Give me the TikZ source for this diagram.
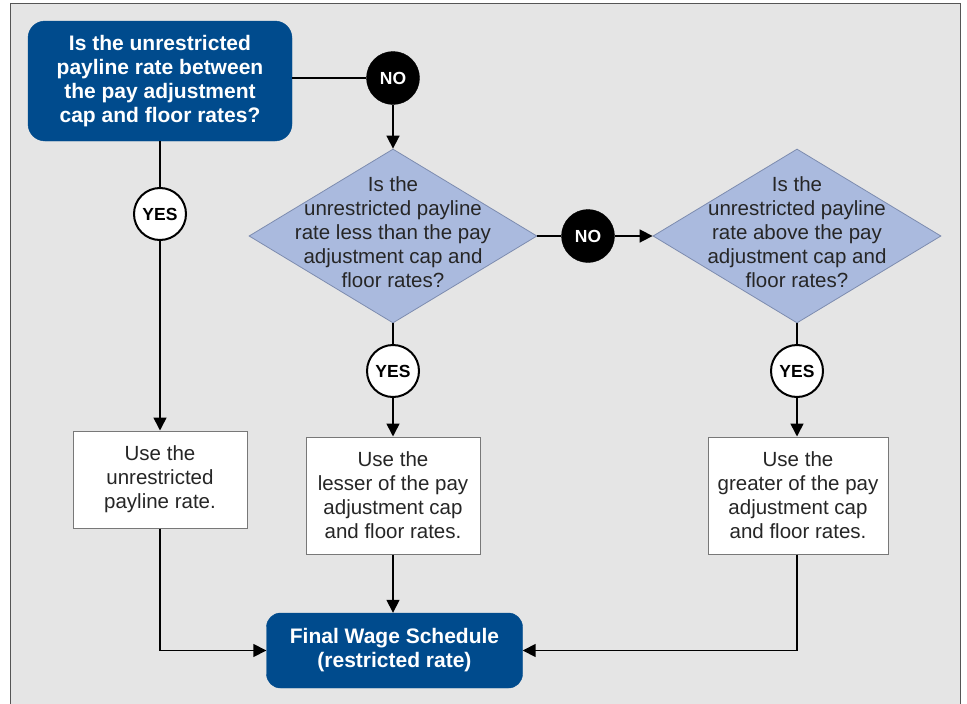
\documentclass[tikz,border=0pt]{standalone}
\usepackage{fontspec}
\setmainfont{Liberation Sans}
\usetikzlibrary{shapes.geometric,arrows.meta}
\definecolor{dblue}{RGB}{0,75,141}
\definecolor{lblue}{RGB}{170,186,222}
\definecolor{dborder}{RGB}{125,140,175}
\definecolor{bg}{RGB}{229,229,229}
\definecolor{frame}{RGB}{85,85,85}
\definecolor{boxline}{RGB}{120,120,120}
\tikzset{
  bluebox/.style={draw=dblue, fill=dblue, rounded corners=17pt, text=white, font=\fontsize{21}{24}\selectfont\bfseries, align=center, inner sep=0pt},
  decision/.style={diamond, draw=dborder, line width=0.8pt, fill=lblue, minimum width=288pt, minimum height=174pt, inner sep=0pt},
  dtext/.style={align=center, inner sep=0pt, font=\fontsize{20.5}{24}\selectfont, text=black!85},
  usebox/.style={draw=boxline, line width=1pt, fill=white, align=center, inner sep=0pt, font=\fontsize{20.5}{24}\selectfont, text=black!85},
  yescirc/.style={circle, draw=black, line width=2pt, fill=white, minimum size=52pt, inner sep=0pt, font=\fontsize{17.5}{17}\selectfont\bfseries},
  nocirc/.style={circle, draw=black, fill=black, minimum size=53pt, inner sep=0pt, text=white, font=\fontsize{17.5}{17}\selectfont\bfseries},
  conn/.style={line width=1.6pt, draw=black},
  arr/.style={conn, -{Triangle[length=13pt,width=13pt]}}
}
\begin{document}
\begin{tikzpicture}[x=1pt,y=-1pt]
\useasboundingbox (0,0) rectangle (967,704);
\fill[white] (0,0) rectangle (967,704);
\draw[frame, fill=bg, line width=1.6pt] (10.5,710) -- (10.5,3.5) -- (960.5,3.5) -- (960.5,710);
% nodes
\node[bluebox, minimum width=264pt, minimum height=120pt] (q1) at (160,81) {Is the unrestricted\\payline rate between\\the pay adjustment\\cap and floor rates?};
\node[nocirc] (no1) at (393,78) {NO};
\node[decision] (d1) at (393,236) {};
\node[dtext] (d1t) at (393,232) {Is the\\unrestricted payline\\rate less than the pay\\adjustment cap and\\floor rates?};
\node[nocirc] (no2) at (588,236) {NO};
\node[decision] (d2) at (797,236) {};
\node[dtext] (d2t) at (797,232) {Is the\\unrestricted payline\\rate above the pay\\adjustment cap and\\floor rates?};
\node[yescirc] (y1) at (160,214) {YES};
\node[yescirc] (y2) at (393,371) {YES};
\node[yescirc] (y3) at (797,371) {YES};
\node[usebox, minimum width=174pt, minimum height=97pt] (b1) at (160,479.5) {Use the\\unrestricted\\payline rate.};
\node[usebox, minimum width=174pt, minimum height=117pt] (b2) at (393,495.5) {Use the\\lesser of the pay\\adjustment cap\\and floor rates.};
\node[usebox, minimum width=180pt, minimum height=117pt] (b3) at (798,495.5) {Use the\\greater of the pay\\adjustment cap\\and floor rates.};
\node[bluebox, minimum width=256pt, minimum height=75pt, rounded corners=14pt] (fin) at (394.5,650.5) {Final Wage Schedule\\(restricted rate)};
% connectors
\draw[conn] (q1.east |- no1) -- (no1);
\draw[arr] (no1) -- (d1.north);
\draw[conn] (d1.east) -- (no2);
\draw[arr] (no2) -- (d2.west);
\draw[conn] (q1.south) -- (y1);
\draw[arr] (y1) -- (b1.north);
\draw[conn] (d1.south) -- (y2);
\draw[arr] (y2) -- (b2.north);
\draw[conn] (d2.south) -- (y3);
\draw[arr] (y3) -- (y3 |- b3.north);
\draw[arr] (b2.south) -- (b2.south |- fin.north);
\draw[arr] (b1.south) |- (fin.west);
\draw[arr] (b3.south -| y3) |- (fin.east);
\end{tikzpicture}
\end{document}
